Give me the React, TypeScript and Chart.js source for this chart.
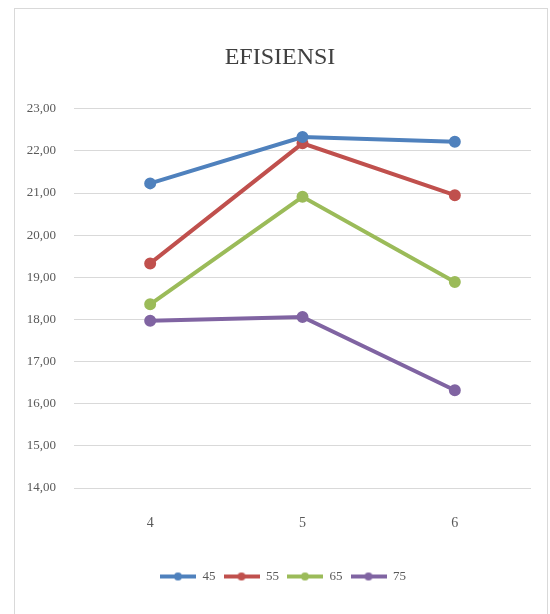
import React, { useEffect, useRef } from "react";
import { Chart, registerables } from "chart.js";

Chart.register(...registerables);

const categories = ["4", "5", "6"];
const seriesNames = ["45", "55", "65", "75"];
const values45 = [21.23, 22.33, 22.22];
const values55 = [19.33, 22.18, 20.95];
const values65 = [18.36, 20.91, 18.89];
const values75 = [17.97, 18.06, 16.32];
const seriesValues = [values45, values55, values65, values75];
const colors = ["#4F81BD", "#C0504D", "#9BBB59", "#8064A2"];
const yMin = 14;
const yMax = 23;
const titleText = "EFISIENSI";

const FONT = "'Liberation Serif', 'DejaVu Serif', serif";
const TEXT_COLOR = "#595959";

function makeLegendIcon(color: string): HTMLCanvasElement {
  const c = document.createElement("canvas");
  c.width = 36;
  c.height = 10;
  const ctx = c.getContext("2d")!;
  ctx.strokeStyle = color;
  ctx.lineWidth = 4;
  ctx.beginPath();
  ctx.moveTo(0, 5);
  ctx.lineTo(36, 5);
  ctx.stroke();
  ctx.fillStyle = color;
  ctx.beginPath();
  ctx.arc(18, 5, 4, 0, Math.PI * 2);
  ctx.fill();
  return c;
}

// shifts the centred title and legend a little to the right, like the original
const shiftPlugin = {
  id: "shiftBoxes",
  afterLayout(chart: any) {
    if (chart.legend) {
      chart.legend.left += 10;
      chart.legend.right += 10;
    }
    if (chart.titleBlock) {
      chart.titleBlock.left += 7;
      chart.titleBlock.right += 7;
    }
  },
};

export default function App() {
  const canvasRef = useRef<HTMLCanvasElement | null>(null);

  useEffect(() => {
    if (!canvasRef.current) return;
    const icons = colors.map((c) => makeLegendIcon(c));
    const chart = new Chart(canvasRef.current, {
      type: "line",
      data: {
        labels: categories,
        datasets: seriesNames.map((name, i) => ({
          label: name,
          data: seriesValues[i],
          borderColor: colors[i],
          backgroundColor: colors[i],
          borderWidth: 4,
          pointRadius: 4,
          pointStyle: "circle",
          pointBackgroundColor: colors[i],
          pointBorderColor: colors[i],
          tension: 0,
          fill: false,
        })),
      },
      plugins: [shiftPlugin],
      options: {
        responsive: true,
        maintainAspectRatio: false,
        animation: false,
        layout: { padding: { left: 0, right: 16, top: 0, bottom: 21 } },
        plugins: {
          title: {
            display: true,
            text: titleText,
            color: "#404040",
            font: { family: FONT, size: 24, weight: "normal" },
            padding: { top: 34, bottom: 37 },
          },
          legend: {
            position: "bottom",
            labels: {
              usePointStyle: true,
              pointStyleWidth: 36,
              boxHeight: 10,
              padding: 8,
              color: TEXT_COLOR,
              font: { family: FONT, size: 13 },
              generateLabels: (ch: any) => {
                const items = Chart.defaults.plugins.legend.labels.generateLabels(ch);
                return items.map((it: any, i: number) => ({ ...it, pointStyle: icons[i] }));
              },
            },
          },
          tooltip: { enabled: false },
        },
        scales: {
          x: {
            offset: true,
            grid: { display: false },
            border: { display: false },
            ticks: { padding: 19, color: TEXT_COLOR, font: { family: FONT, size: 14 } },
            afterFit: (s: any) => {
              s.height = 74;
            },
          },
          y: {
            min: yMin,
            max: yMax,
            ticks: {
              stepSize: 1,
              padding: 18,
              color: TEXT_COLOR,
              font: { family: FONT, size: 13 },
              callback: (v: any) => Number(v).toFixed(2).replace(".", ","),
            },
            grid: { color: "#d9d9d9", drawTicks: false },
            border: { display: false },
            afterFit: (s: any) => {
              s.width = 59;
            },
          },
        },
      },
    });
    return () => chart.destroy();
  }, []);

  return (
    <div
      style={{
        position: "fixed",
        left: 14,
        top: 8,
        width: 532,
        height: 640,
        border: "1px solid #d9d9d9",
        background: "#fff",
      }}
    >
      <div style={{ position: "relative", width: 532, height: 605 }}>
        <canvas ref={canvasRef} />
      </div>
    </div>
  );
}
